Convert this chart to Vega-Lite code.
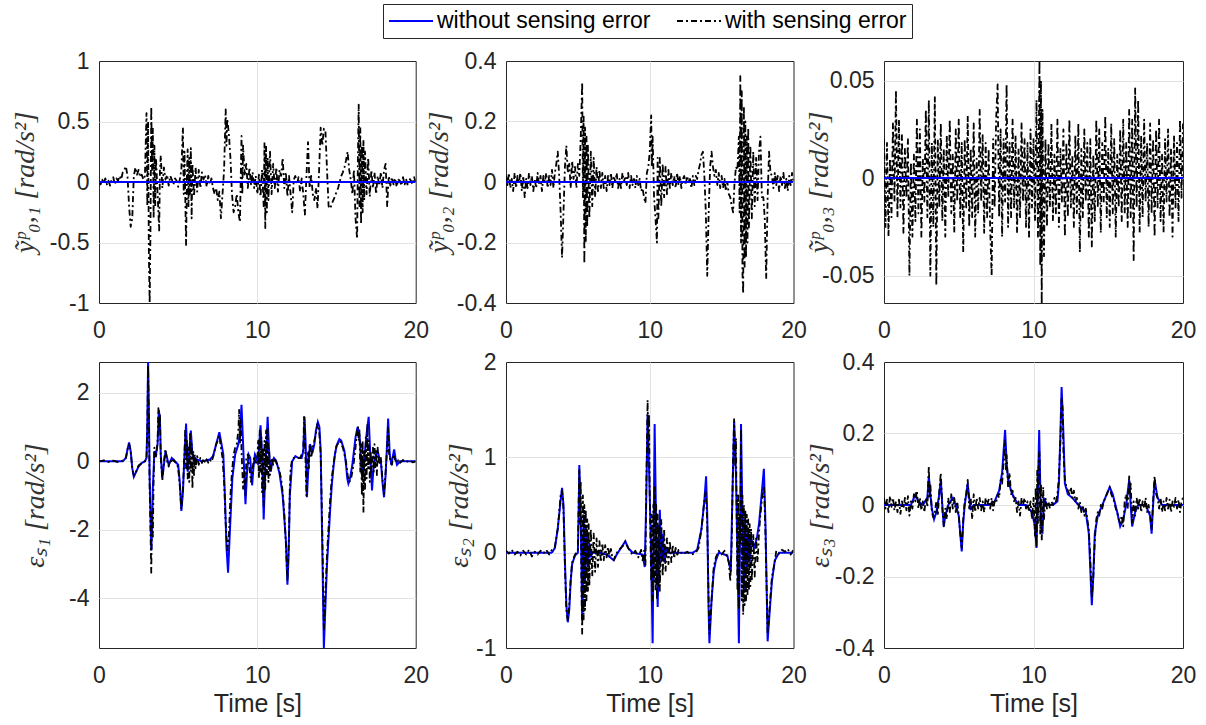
{
"$schema":"https://vega.github.io/schema/vega-lite/v6.json",
"padding":{"left":10,"top":3,"right":10,"bottom":5},
"bounds":"flush",
"columns":3,
"spacing":{"row":59,"column":90},
"datasets":{
"z":[{"t":0,"y":0},{"t":20,"y":0}],
"k1":[{"t":0,"y":0.01},{"t":0.1,"y":-0.02},{"t":0.2,"y":0.02},{"t":0.3,"y":-0.01},{"t":0.4,"y":0.03},{"t":0.5,"y":-0.02},{"t":0.6,"y":0.01},{"t":0.7,"y":-0.03},{"t":0.8,"y":0.02},{"t":0.9,"y":0.04},{"t":1,"y":-0.02},{"t":1.1,"y":0.03},{"t":1.2,"y":0.01},{"t":1.3,"y":0.05},{"t":1.4,"y":0.02},{"t":1.5,"y":0.08},{"t":1.6,"y":0.1},{"t":1.7,"y":0.13},{"t":1.8,"y":0.05},{"t":1.9,"y":-0.2},{"t":2,"y":-0.37},{"t":2.1,"y":-0.3},{"t":2.2,"y":0.05},{"t":2.3,"y":0.12},{"t":2.4,"y":0.06},{"t":2.5,"y":0.1},{"t":2.6,"y":0.04},{"t":2.7,"y":0.06},{"t":2.8,"y":0.02},{"t":2.9,"y":0.05},{"t":3,"y":0.57},{"t":3.05,"y":-0.2},{"t":3.1,"y":0.5},{"t":3.15,"y":-0.6},{"t":3.2,"y":-1},{"t":3.25,"y":-0.4},{"t":3.3,"y":0.62},{"t":3.35,"y":0.1},{"t":3.4,"y":0.45},{"t":3.45,"y":-0.3},{"t":3.5,"y":0.3},{"t":3.55,"y":-0.2},{"t":3.6,"y":0.2},{"t":3.7,"y":-0.1},{"t":3.8,"y":-0.4},{"t":3.85,"y":0.1},{"t":3.9,"y":0.22},{"t":4,"y":-0.05},{"t":4.1,"y":0.12},{"t":4.2,"y":0.02},{"t":4.3,"y":0.06},{"t":4.4,"y":-0.03},{"t":4.5,"y":0.05},{"t":4.6,"y":0.02},{"t":4.7,"y":-0.02},{"t":4.8,"y":0.03},{"t":4.9,"y":0.01},{"t":5,"y":-0.04},{"t":5.1,"y":0.02},{"t":5.2,"y":0.1},{"t":5.3,"y":0.45},{"t":5.35,"y":-0.1},{"t":5.4,"y":0.25},{"t":5.5,"y":-0.52},{"t":5.55,"y":0.05},{"t":5.6,"y":0.27},{"t":5.65,"y":-0.2},{"t":5.7,"y":0.2},{"t":5.75,"y":-0.1},{"t":5.8,"y":0.28},{"t":5.85,"y":-0.3},{"t":5.9,"y":0.15},{"t":6,"y":-0.12},{"t":6.1,"y":0.12},{"t":6.2,"y":-0.08},{"t":6.3,"y":0.1},{"t":6.4,"y":-0.05},{"t":6.5,"y":0.08},{"t":6.6,"y":0.02},{"t":6.7,"y":0.06},{"t":6.8,"y":-0.04},{"t":6.9,"y":0.05},{"t":7,"y":-0.02},{"t":7.1,"y":0.03},{"t":7.2,"y":-0.05},{"t":7.3,"y":-0.1},{"t":7.4,"y":-0.05},{"t":7.5,"y":-0.15},{"t":7.6,"y":-0.08},{"t":7.7,"y":-0.3},{"t":7.8,"y":-0.1},{"t":7.9,"y":0.1},{"t":8,"y":0.6},{"t":8.05,"y":0.3},{"t":8.1,"y":0.52},{"t":8.2,"y":0.4},{"t":8.3,"y":0.2},{"t":8.4,"y":-0.1},{"t":8.5,"y":-0.25},{"t":8.6,"y":-0.2},{"t":8.7,"y":-0.1},{"t":8.8,"y":-0.25},{"t":8.9,"y":-0.33},{"t":9,"y":0.38},{"t":9.05,"y":-0.1},{"t":9.1,"y":0.3},{"t":9.2,"y":0.05},{"t":9.3,"y":0.15},{"t":9.4,"y":-0.05},{"t":9.5,"y":0.12},{"t":9.6,"y":-0.02},{"t":9.7,"y":0.08},{"t":9.8,"y":-0.05},{"t":9.9,"y":0.05},{"t":10,"y":-0.1},{"t":10.1,"y":0.06},{"t":10.2,"y":-0.12},{"t":10.3,"y":0.1},{"t":10.4,"y":-0.2},{"t":10.45,"y":0.33},{"t":10.5,"y":-0.38},{"t":10.55,"y":0.3},{"t":10.6,"y":-0.25},{"t":10.65,"y":0.2},{"t":10.7,"y":-0.15},{"t":10.8,"y":0.25},{"t":10.9,"y":-0.1},{"t":11,"y":0.15},{"t":11.1,"y":-0.05},{"t":11.2,"y":0.12},{"t":11.3,"y":-0.08},{"t":11.4,"y":0.1},{"t":11.5,"y":0.05},{"t":11.6,"y":0.2},{"t":11.7,"y":-0.05},{"t":11.8,"y":0.08},{"t":11.9,"y":-0.12},{"t":12,"y":0.05},{"t":12.1,"y":-0.1},{"t":12.2,"y":-0.25},{"t":12.3,"y":0.02},{"t":12.4,"y":0.05},{"t":12.5,"y":-0.02},{"t":12.6,"y":0.04},{"t":12.7,"y":-0.08},{"t":12.8,"y":0.03},{"t":12.9,"y":-0.1},{"t":13,"y":-0.27},{"t":13.1,"y":0.05},{"t":13.2,"y":0.33},{"t":13.3,"y":-0.05},{"t":13.4,"y":0.05},{"t":13.5,"y":-0.1},{"t":13.6,"y":-0.15},{"t":13.7,"y":-0.05},{"t":13.8,"y":-0.22},{"t":13.9,"y":0.1},{"t":14,"y":0.45},{"t":14.1,"y":0.3},{"t":14.2,"y":0.44},{"t":14.3,"y":0.42},{"t":14.4,"y":0.1},{"t":14.5,"y":-0.2},{"t":14.6,"y":-0.22},{"t":14.7,"y":-0.18},{"t":14.8,"y":-0.15},{"t":14.9,"y":-0.12},{"t":15,"y":-0.08},{"t":15.1,"y":-0.05},{"t":15.2,"y":0},{"t":15.3,"y":0.05},{"t":15.4,"y":0.08},{"t":15.5,"y":0.12},{"t":15.6,"y":0.18},{"t":15.7,"y":0.25},{"t":15.8,"y":0.1},{"t":15.9,"y":0.02},{"t":16,"y":-0.1},{"t":16.1,"y":0.1},{"t":16.2,"y":-0.3},{"t":16.3,"y":-0.47},{"t":16.35,"y":0.2},{"t":16.4,"y":0.64},{"t":16.45,"y":-0.2},{"t":16.5,"y":0.45},{"t":16.55,"y":-0.35},{"t":16.6,"y":0.3},{"t":16.65,"y":-0.25},{"t":16.7,"y":0.35},{"t":16.75,"y":-0.15},{"t":16.8,"y":0.25},{"t":16.9,"y":-0.1},{"t":17,"y":0.2},{"t":17.1,"y":-0.12},{"t":17.2,"y":0.1},{"t":17.3,"y":-0.05},{"t":17.4,"y":0.08},{"t":17.5,"y":-0.1},{"t":17.6,"y":0.05},{"t":17.7,"y":-0.03},{"t":17.8,"y":0.08},{"t":17.9,"y":-0.05},{"t":18,"y":0.1},{"t":18.1,"y":0.15},{"t":18.2,"y":-0.2},{"t":18.3,"y":0.05},{"t":18.4,"y":-0.03},{"t":18.5,"y":0.04},{"t":18.6,"y":-0.02},{"t":18.7,"y":0.03},{"t":18.8,"y":-0.04},{"t":18.9,"y":0.02},{"t":19,"y":0.01},{"t":19.1,"y":-0.03},{"t":19.2,"y":0.04},{"t":19.3,"y":-0.02},{"t":19.4,"y":0.02},{"t":19.5,"y":-0.03},{"t":19.6,"y":0.03},{"t":19.7,"y":0.01},{"t":19.8,"y":-0.02},{"t":19.9,"y":0.04},{"t":20,"y":0}],
"k2":[{"t":0,"y":0.02},{"t":0.1,"y":-0.01},{"t":0.2,"y":0.03},{"t":0.3,"y":-0.02},{"t":0.4,"y":0.01},{"t":0.5,"y":-0.03},{"t":0.6,"y":0.03},{"t":0.7,"y":-0.02},{"t":0.8,"y":0.02},{"t":0.9,"y":0},{"t":1,"y":0.03},{"t":1.1,"y":-0.03},{"t":1.2,"y":0.02},{"t":1.3,"y":-0.05},{"t":1.4,"y":0.01},{"t":1.5,"y":-0.02},{"t":1.6,"y":0.03},{"t":1.7,"y":-0.01},{"t":1.8,"y":0.02},{"t":1.9,"y":-0.03},{"t":2,"y":0.01},{"t":2.1,"y":-0.02},{"t":2.2,"y":0.03},{"t":2.3,"y":-0.01},{"t":2.4,"y":0.02},{"t":2.5,"y":-0.03},{"t":2.6,"y":0.02},{"t":2.7,"y":0},{"t":2.8,"y":0.03},{"t":2.9,"y":-0.02},{"t":3,"y":0.02},{"t":3.1,"y":-0.01},{"t":3.2,"y":0.04},{"t":3.3,"y":-0.02},{"t":3.4,"y":0.03},{"t":3.5,"y":0.06},{"t":3.6,"y":0.1},{"t":3.7,"y":0.02},{"t":3.8,"y":-0.1},{"t":3.9,"y":-0.25},{"t":4,"y":-0.1},{"t":4.1,"y":0.05},{"t":4.2,"y":0.12},{"t":4.3,"y":0.03},{"t":4.4,"y":0.06},{"t":4.5,"y":-0.02},{"t":4.6,"y":0.07},{"t":4.7,"y":0.01},{"t":4.8,"y":0.05},{"t":4.9,"y":-0.02},{"t":5,"y":0.06},{"t":5.1,"y":0.02},{"t":5.2,"y":0.15},{"t":5.3,"y":0.33},{"t":5.35,"y":-0.05},{"t":5.4,"y":0.22},{"t":5.45,"y":-0.27},{"t":5.5,"y":0.18},{"t":5.55,"y":-0.2},{"t":5.6,"y":0.15},{"t":5.65,"y":-0.15},{"t":5.7,"y":0.12},{"t":5.8,"y":-0.12},{"t":5.9,"y":0.1},{"t":6,"y":-0.08},{"t":6.1,"y":0.08},{"t":6.2,"y":-0.05},{"t":6.3,"y":0.05},{"t":6.4,"y":-0.03},{"t":6.5,"y":0.04},{"t":6.6,"y":-0.02},{"t":6.7,"y":0.03},{"t":6.8,"y":-0.02},{"t":6.9,"y":0.02},{"t":7,"y":-0.03},{"t":7.1,"y":0.02},{"t":7.2,"y":-0.01},{"t":7.3,"y":0.03},{"t":7.4,"y":-0.02},{"t":7.5,"y":0.02},{"t":7.6,"y":0},{"t":7.7,"y":0.03},{"t":7.8,"y":-0.02},{"t":7.9,"y":0.01},{"t":8,"y":-0.02},{"t":8.1,"y":0.03},{"t":8.2,"y":0},{"t":8.3,"y":0.02},{"t":8.4,"y":-0.01},{"t":8.5,"y":0.03},{"t":8.6,"y":-0.02},{"t":8.7,"y":0.02},{"t":8.8,"y":-0.01},{"t":8.9,"y":0.01},{"t":9,"y":-0.02},{"t":9.1,"y":0.02},{"t":9.2,"y":-0.01},{"t":9.3,"y":0.01},{"t":9.4,"y":-0.03},{"t":9.5,"y":-0.02},{"t":9.6,"y":-0.05},{"t":9.7,"y":-0.07},{"t":9.8,"y":0.03},{"t":9.9,"y":0.05},{"t":10,"y":0.1},{"t":10.1,"y":0.22},{"t":10.15,"y":0.05},{"t":10.2,"y":0.15},{"t":10.3,"y":-0.05},{"t":10.4,"y":-0.12},{"t":10.5,"y":-0.2},{"t":10.55,"y":0.08},{"t":10.6,"y":-0.12},{"t":10.7,"y":0.08},{"t":10.8,"y":-0.08},{"t":10.9,"y":0.06},{"t":11,"y":-0.05},{"t":11.1,"y":0.05},{"t":11.2,"y":-0.04},{"t":11.3,"y":0.04},{"t":11.4,"y":-0.02},{"t":11.5,"y":0.03},{"t":11.6,"y":-0.01},{"t":11.7,"y":0.02},{"t":11.8,"y":-0.02},{"t":11.9,"y":0.03},{"t":12,"y":-0.01},{"t":12.1,"y":0.02},{"t":12.2,"y":-0.02},{"t":12.3,"y":0.01},{"t":12.4,"y":0.02},{"t":12.5,"y":-0.01},{"t":12.6,"y":0.02},{"t":12.7,"y":0},{"t":12.8,"y":0.01},{"t":12.9,"y":-0.02},{"t":13,"y":0.02},{"t":13.1,"y":-0.01},{"t":13.2,"y":0.02},{"t":13.3,"y":0.01},{"t":13.4,"y":0.04},{"t":13.5,"y":0.06},{"t":13.6,"y":0.09},{"t":13.7,"y":0.1},{"t":13.8,"y":0.02},{"t":13.9,"y":-0.1},{"t":14,"y":-0.31},{"t":14.1,"y":-0.1},{"t":14.2,"y":0.05},{"t":14.3,"y":0.1},{"t":14.4,"y":0.05},{"t":14.5,"y":0.02},{"t":14.6,"y":0.04},{"t":14.7,"y":-0.01},{"t":14.8,"y":0.03},{"t":14.9,"y":-0.02},{"t":15,"y":0.02},{"t":15.1,"y":-0.02},{"t":15.2,"y":0.01},{"t":15.3,"y":-0.03},{"t":15.4,"y":0},{"t":15.5,"y":-0.04},{"t":15.6,"y":-0.05},{"t":15.7,"y":-0.08},{"t":15.8,"y":-0.1},{"t":15.9,"y":0},{"t":16,"y":0.05},{"t":16.1,"y":0.04},{"t":16.2,"y":0.15},{"t":16.25,"y":-0.1},{"t":16.3,"y":0.35},{"t":16.35,"y":-0.2},{"t":16.4,"y":0.3},{"t":16.45,"y":-0.3},{"t":16.5,"y":-0.37},{"t":16.55,"y":0.25},{"t":16.6,"y":-0.28},{"t":16.65,"y":0.2},{"t":16.7,"y":-0.25},{"t":16.75,"y":0.15},{"t":16.8,"y":-0.2},{"t":16.85,"y":0.18},{"t":16.9,"y":-0.15},{"t":17,"y":0.12},{"t":17.1,"y":-0.12},{"t":17.2,"y":0.1},{"t":17.3,"y":-0.08},{"t":17.4,"y":0.08},{"t":17.5,"y":-0.06},{"t":17.6,"y":0.1},{"t":17.7,"y":0.15},{"t":17.8,"y":-0.05},{"t":17.9,"y":-0.05},{"t":18,"y":-0.12},{"t":18.1,"y":-0.32},{"t":18.2,"y":-0.05},{"t":18.3,"y":0.1},{"t":18.4,"y":0.03},{"t":18.5,"y":0.02},{"t":18.6,"y":-0.02},{"t":18.7,"y":0.03},{"t":18.8,"y":-0.01},{"t":18.9,"y":0.02},{"t":19,"y":-0.03},{"t":19.1,"y":0.02},{"t":19.2,"y":-0.01},{"t":19.3,"y":0.03},{"t":19.4,"y":-0.02},{"t":19.5,"y":0.01},{"t":19.6,"y":-0.03},{"t":19.7,"y":0.02},{"t":19.8,"y":-0.01},{"t":19.9,"y":0.03},{"t":20,"y":0}],
"k3":[{"t":0,"y":0.02},{"t":0.1,"y":-0.025},{"t":0.2,"y":0.018},{"t":0.3,"y":-0.03},{"t":0.4,"y":0.01},{"t":0.5,"y":-0.02},{"t":0.6,"y":0.028},{"t":0.7,"y":-0.012},{"t":0.8,"y":0.045},{"t":0.9,"y":-0.02},{"t":1,"y":0.03},{"t":1.1,"y":-0.015},{"t":1.2,"y":0.022},{"t":1.3,"y":-0.028},{"t":1.4,"y":0.015},{"t":1.5,"y":-0.01},{"t":1.6,"y":0.02},{"t":1.7,"y":-0.05},{"t":1.8,"y":0.008},{"t":1.9,"y":-0.03},{"t":2,"y":0.012},{"t":2.1,"y":-0.022},{"t":2.2,"y":0.03},{"t":2.3,"y":-0.018},{"t":2.4,"y":0.025},{"t":2.5,"y":-0.03},{"t":2.6,"y":0.01},{"t":2.7,"y":-0.012},{"t":2.8,"y":0.035},{"t":2.9,"y":-0.02},{"t":3,"y":0.04},{"t":3.1,"y":-0.05},{"t":3.2,"y":0.018},{"t":3.3,"y":-0.025},{"t":3.4,"y":0.042},{"t":3.5,"y":-0.055},{"t":3.6,"y":0.02},{"t":3.7,"y":-0.015},{"t":3.8,"y":0.028},{"t":3.9,"y":-0.022},{"t":4,"y":0.015},{"t":4.1,"y":-0.03},{"t":4.2,"y":0.022},{"t":4.3,"y":-0.01},{"t":4.4,"y":0.03},{"t":4.5,"y":-0.018},{"t":4.6,"y":0.012},{"t":4.7,"y":-0.028},{"t":4.8,"y":0.025},{"t":4.9,"y":-0.012},{"t":5,"y":0.03},{"t":5.1,"y":-0.02},{"t":5.2,"y":0.018},{"t":5.3,"y":-0.038},{"t":5.4,"y":0.02},{"t":5.5,"y":-0.015},{"t":5.6,"y":0.032},{"t":5.7,"y":-0.025},{"t":5.8,"y":0.015},{"t":5.9,"y":-0.02},{"t":6,"y":0.028},{"t":6.1,"y":-0.03},{"t":6.2,"y":0.01},{"t":6.3,"y":-0.018},{"t":6.4,"y":0.035},{"t":6.5,"y":-0.012},{"t":6.6,"y":0.022},{"t":6.7,"y":-0.028},{"t":6.8,"y":0.018},{"t":6.9,"y":-0.02},{"t":7,"y":0.015},{"t":7.1,"y":-0.025},{"t":7.2,"y":-0.05},{"t":7.3,"y":0.02},{"t":7.4,"y":-0.015},{"t":7.5,"y":0.03},{"t":7.6,"y":0.048},{"t":7.7,"y":-0.02},{"t":7.8,"y":0.025},{"t":7.9,"y":-0.03},{"t":8,"y":0.02},{"t":8.1,"y":-0.012},{"t":8.2,"y":0.048},{"t":8.3,"y":-0.025},{"t":8.4,"y":0.018},{"t":8.5,"y":-0.02},{"t":8.6,"y":0.03},{"t":8.7,"y":-0.015},{"t":8.8,"y":0.022},{"t":8.9,"y":-0.028},{"t":9,"y":0.015},{"t":9.1,"y":-0.02},{"t":9.2,"y":0.028},{"t":9.3,"y":-0.012},{"t":9.4,"y":0.02},{"t":9.5,"y":-0.025},{"t":9.6,"y":0.018},{"t":9.7,"y":-0.03},{"t":9.8,"y":0.025},{"t":9.9,"y":-0.015},{"t":10,"y":0.02},{"t":10.1,"y":-0.022},{"t":10.2,"y":0.04},{"t":10.3,"y":-0.03},{"t":10.4,"y":0.06},{"t":10.45,"y":-0.045},{"t":10.5,"y":0.05},{"t":10.55,"y":-0.065},{"t":10.6,"y":0.035},{"t":10.7,"y":-0.04},{"t":10.8,"y":0.02},{"t":10.9,"y":-0.025},{"t":11,"y":0.018},{"t":11.1,"y":-0.015},{"t":11.2,"y":0.028},{"t":11.3,"y":-0.022},{"t":11.4,"y":0.012},{"t":11.5,"y":-0.018},{"t":11.6,"y":0.03},{"t":11.7,"y":-0.025},{"t":11.8,"y":0.015},{"t":11.9,"y":-0.012},{"t":12,"y":0.025},{"t":12.1,"y":-0.03},{"t":12.2,"y":0.018},{"t":12.3,"y":-0.02},{"t":12.4,"y":0.03},{"t":12.5,"y":-0.015},{"t":12.6,"y":0.012},{"t":12.7,"y":-0.025},{"t":12.8,"y":0.022},{"t":12.9,"y":-0.018},{"t":13,"y":0.028},{"t":13.1,"y":-0.038},{"t":13.2,"y":0.015},{"t":13.3,"y":-0.02},{"t":13.4,"y":0.025},{"t":13.5,"y":-0.012},{"t":13.6,"y":0.018},{"t":13.7,"y":-0.03},{"t":13.8,"y":0.02},{"t":13.9,"y":-0.035},{"t":14,"y":0.012},{"t":14.1,"y":-0.022},{"t":14.2,"y":0.03},{"t":14.3,"y":-0.015},{"t":14.4,"y":0.025},{"t":14.5,"y":-0.028},{"t":14.6,"y":0.018},{"t":14.7,"y":-0.012},{"t":14.8,"y":0.032},{"t":14.9,"y":-0.02},{"t":15,"y":0.015},{"t":15.1,"y":-0.025},{"t":15.2,"y":0.028},{"t":15.3,"y":-0.018},{"t":15.4,"y":0.02},{"t":15.5,"y":-0.03},{"t":15.6,"y":0.012},{"t":15.7,"y":-0.015},{"t":15.8,"y":0.025},{"t":15.9,"y":-0.022},{"t":16,"y":0.03},{"t":16.1,"y":-0.018},{"t":16.2,"y":0.018},{"t":16.3,"y":-0.025},{"t":16.4,"y":0.035},{"t":16.5,"y":-0.02},{"t":16.6,"y":0.03},{"t":16.7,"y":-0.042},{"t":16.8,"y":0.046},{"t":16.9,"y":-0.015},{"t":17,"y":0.04},{"t":17.1,"y":-0.028},{"t":17.2,"y":0.022},{"t":17.3,"y":-0.02},{"t":17.4,"y":0.03},{"t":17.5,"y":-0.012},{"t":17.6,"y":0.018},{"t":17.7,"y":-0.025},{"t":17.8,"y":0.028},{"t":17.9,"y":-0.018},{"t":18,"y":0.02},{"t":18.1,"y":-0.03},{"t":18.2,"y":0.025},{"t":18.3,"y":-0.015},{"t":18.4,"y":0.03},{"t":18.5,"y":-0.022},{"t":18.6,"y":0.012},{"t":18.7,"y":-0.028},{"t":18.8,"y":0.02},{"t":18.9,"y":-0.012},{"t":19,"y":0.025},{"t":19.1,"y":-0.02},{"t":19.2,"y":0.015},{"t":19.3,"y":-0.03},{"t":19.4,"y":0.022},{"t":19.5,"y":-0.015},{"t":19.6,"y":0.018},{"t":19.7,"y":-0.022},{"t":19.8,"y":0.03},{"t":19.9,"y":-0.01},{"t":20,"y":0.028}],
"c1":[{"t":0,"y":0},{"t":1.5,"y":0},{"t":1.7,"y":0.1},{"t":1.8,"y":0.35},{"t":1.9,"y":0.55},{"t":2,"y":0.3},{"t":2.1,"y":-0.2},{"t":2.2,"y":-0.45},{"t":2.3,"y":-0.35},{"t":2.5,"y":-0.15},{"t":2.7,"y":-0.05},{"t":2.9,"y":0},{"t":3,"y":0.1},{"t":3.05,"y":1},{"t":3.1,"y":2.9},{"t":3.15,"y":1.5},{"t":3.2,"y":-0.5},{"t":3.3,"y":-2.6},{"t":3.35,"y":-2},{"t":3.4,"y":-0.8},{"t":3.5,"y":0.3},{"t":3.6,"y":0.2},{"t":3.7,"y":0.5},{"t":3.78,"y":1.5},{"t":3.85,"y":1.2},{"t":3.9,"y":0.2},{"t":4,"y":-0.5},{"t":4.1,"y":-0.1},{"t":4.2,"y":0.3},{"t":4.3,"y":0.1},{"t":4.4,"y":-0.1},{"t":4.5,"y":0},{"t":4.6,"y":0.1},{"t":4.8,"y":0},{"t":5,"y":-0.1},{"t":5.1,"y":-0.6},{"t":5.2,"y":-1.45},{"t":5.3,"y":-0.9},{"t":5.4,"y":0.2},{"t":5.5,"y":1.1},{"t":5.6,"y":-0.3},{"t":5.7,"y":0.3},{"t":5.8,"y":0.9},{"t":5.9,"y":0.2},{"t":6,"y":0.1},{"t":6.2,"y":0.05},{"t":6.5,"y":0},{"t":7,"y":0.05},{"t":7.2,"y":0.15},{"t":7.4,"y":0.5},{"t":7.6,"y":0.85},{"t":7.7,"y":0.6},{"t":7.85,"y":0.2},{"t":7.95,"y":-1},{"t":8.05,"y":-2.5},{"t":8.15,"y":-3.25},{"t":8.27,"y":-2},{"t":8.42,"y":-0.5},{"t":8.6,"y":0.2},{"t":8.8,"y":0.5},{"t":8.9,"y":0.8},{"t":9,"y":1.65},{"t":9.1,"y":0.5},{"t":9.25,"y":-1.25},{"t":9.35,"y":-0.3},{"t":9.45,"y":0.2},{"t":9.55,"y":0.1},{"t":9.67,"y":-0.7},{"t":9.75,"y":-0.2},{"t":9.85,"y":0.2},{"t":9.95,"y":0.1},{"t":10.05,"y":-0.1},{"t":10.12,"y":0.5},{"t":10.2,"y":1.05},{"t":10.3,"y":0.2},{"t":10.4,"y":-1.7},{"t":10.5,"y":-0.3},{"t":10.65,"y":1.3},{"t":10.75,"y":0.2},{"t":10.85,"y":-0.3},{"t":10.95,"y":0},{"t":11.05,"y":0.1},{"t":11.2,"y":0},{"t":11.4,"y":-0.35},{"t":11.6,"y":-1},{"t":11.8,"y":-2.3},{"t":11.9,"y":-3.6},{"t":11.97,"y":-2.8},{"t":12.05,"y":-1},{"t":12.2,"y":0},{"t":12.4,"y":0.15},{"t":12.6,"y":0.1},{"t":12.8,"y":0.1},{"t":12.9,"y":0.3},{"t":12.98,"y":1.3},{"t":13.05,"y":0.5},{"t":13.13,"y":-1.05},{"t":13.22,"y":-0.2},{"t":13.32,"y":0.5},{"t":13.5,"y":0.3},{"t":13.6,"y":0.5},{"t":13.7,"y":0.9},{"t":13.82,"y":1.15},{"t":13.92,"y":1},{"t":14,"y":0.3},{"t":14.1,"y":-2.5},{"t":14.2,"y":-5.45},{"t":14.3,"y":-4.2},{"t":14.4,"y":-3},{"t":14.5,"y":-2.2},{"t":14.6,"y":-1.4},{"t":14.7,"y":-0.7},{"t":14.8,"y":-0.2},{"t":14.9,"y":0.2},{"t":15,"y":0.45},{"t":15.18,"y":0.65},{"t":15.3,"y":0.6},{"t":15.5,"y":0.3},{"t":15.6,"y":-0.1},{"t":15.68,"y":-0.5},{"t":15.75,"y":-0.65},{"t":15.85,"y":-0.5},{"t":16,"y":-0.1},{"t":16.1,"y":0.3},{"t":16.2,"y":0.7},{"t":16.33,"y":1},{"t":16.45,"y":0.8},{"t":16.55,"y":0},{"t":16.65,"y":-0.5},{"t":16.78,"y":0.2},{"t":16.9,"y":0.8},{"t":17.03,"y":1.3},{"t":17.12,"y":0.3},{"t":17.24,"y":-0.85},{"t":17.33,"y":-0.2},{"t":17.42,"y":0.1},{"t":17.5,"y":0.2},{"t":17.6,"y":0.3},{"t":17.7,"y":0.1},{"t":17.8,"y":0},{"t":17.9,"y":-0.6},{"t":18,"y":-1.05},{"t":18.1,"y":-0.4},{"t":18.18,"y":0.4},{"t":18.26,"y":1.25},{"t":18.36,"y":0.2},{"t":18.46,"y":-0.1},{"t":18.64,"y":0.35},{"t":18.72,"y":0.1},{"t":18.82,"y":-0.1},{"t":19,"y":0},{"t":20,"y":0}],
"k4":[{"t":0,"y":0},{"t":0.3,"y":0.03},{"t":0.6,"y":-0.02},{"t":0.9,"y":0.02},{"t":1.2,"y":-0.02},{"t":1.5,"y":0.02},{"t":1.7,"y":0.1},{"t":1.8,"y":0.35},{"t":1.9,"y":0.5},{"t":2,"y":0.3},{"t":2.1,"y":-0.2},{"t":2.2,"y":-0.42},{"t":2.3,"y":-0.35},{"t":2.5,"y":-0.12},{"t":2.7,"y":-0.05},{"t":2.9,"y":0},{"t":3,"y":0.1},{"t":3.05,"y":1},{"t":3.1,"y":2.8},{"t":3.15,"y":1.2},{"t":3.2,"y":-0.8},{"t":3.25,"y":-2},{"t":3.3,"y":-3.25},{"t":3.35,"y":-1.5},{"t":3.4,"y":-2.2},{"t":3.45,"y":-0.5},{"t":3.5,"y":0.4},{"t":3.6,"y":0.1},{"t":3.7,"y":0.6},{"t":3.75,"y":1.55},{"t":3.8,"y":0.9},{"t":3.85,"y":1.4},{"t":3.9,"y":0.1},{"t":4,"y":-0.55},{"t":4.1,"y":0},{"t":4.2,"y":0.35},{"t":4.3,"y":0},{"t":4.4,"y":-0.15},{"t":4.5,"y":0.05},{"t":4.6,"y":-0.05},{"t":4.7,"y":0.05},{"t":4.8,"y":-0.02},{"t":4.9,"y":-0.05},{"t":5,"y":-0.2},{"t":5.1,"y":-0.7},{"t":5.2,"y":-1.4},{"t":5.3,"y":-0.8},{"t":5.4,"y":0.3},{"t":5.45,"y":0.95},{"t":5.5,"y":-0.2},{"t":5.55,"y":0.6},{"t":5.6,"y":-0.5},{"t":5.65,"y":0.4},{"t":5.7,"y":-0.6},{"t":5.75,"y":0.8},{"t":5.8,"y":-0.3},{"t":5.85,"y":0.5},{"t":5.9,"y":-0.8},{"t":5.95,"y":0.3},{"t":6,"y":-0.4},{"t":6.05,"y":0.2},{"t":6.1,"y":-0.2},{"t":6.2,"y":0.15},{"t":6.3,"y":-0.1},{"t":6.4,"y":0.1},{"t":6.5,"y":-0.05},{"t":6.6,"y":0.08},{"t":6.7,"y":-0.05},{"t":6.8,"y":0.06},{"t":6.9,"y":-0.04},{"t":7,"y":0.05},{"t":7.1,"y":-0.02},{"t":7.2,"y":0.12},{"t":7.3,"y":0.3},{"t":7.4,"y":0.5},{"t":7.5,"y":0.6},{"t":7.6,"y":0.75},{"t":7.7,"y":0.4},{"t":7.8,"y":0.1},{"t":7.9,"y":-0.6},{"t":8,"y":-1.8},{"t":8.1,"y":-2.6},{"t":8.2,"y":-2.2},{"t":8.3,"y":-1},{"t":8.4,"y":-0.3},{"t":8.5,"y":0.2},{"t":8.6,"y":0.4},{"t":8.7,"y":0.5},{"t":8.8,"y":0.9},{"t":8.85,"y":1.5},{"t":8.9,"y":0.5},{"t":8.95,"y":1.2},{"t":9,"y":0.3},{"t":9.1,"y":-0.8},{"t":9.2,"y":-0.3},{"t":9.25,"y":-1},{"t":9.3,"y":0.1},{"t":9.4,"y":0.2},{"t":9.5,"y":-0.2},{"t":9.6,"y":-0.6},{"t":9.7,"y":-0.2},{"t":9.8,"y":0.15},{"t":9.9,"y":-0.1},{"t":10,"y":0.1},{"t":10.05,"y":0.6},{"t":10.1,"y":-0.5},{"t":10.15,"y":0.9},{"t":10.2,"y":-0.3},{"t":10.25,"y":0.7},{"t":10.3,"y":-0.9},{"t":10.35,"y":0.4},{"t":10.4,"y":-1.3},{"t":10.45,"y":0.6},{"t":10.5,"y":-0.8},{"t":10.55,"y":0.9},{"t":10.6,"y":-0.4},{"t":10.65,"y":1},{"t":10.7,"y":-0.6},{"t":10.75,"y":0.3},{"t":10.8,"y":-0.4},{"t":10.9,"y":0.1},{"t":11,"y":-0.1},{"t":11.1,"y":0.1},{"t":11.2,"y":-0.05},{"t":11.3,"y":-0.1},{"t":11.4,"y":-0.3},{"t":11.5,"y":-0.5},{"t":11.6,"y":-0.9},{"t":11.7,"y":-1.5},{"t":11.8,"y":-2.4},{"t":11.9,"y":-3.5},{"t":12,"y":-2.2},{"t":12.05,"y":-0.8},{"t":12.1,"y":-0.2},{"t":12.2,"y":0.05},{"t":12.3,"y":0.1},{"t":12.5,"y":0.1},{"t":12.7,"y":0.1},{"t":12.9,"y":0.3},{"t":12.95,"y":1.3},{"t":13,"y":0.8},{"t":13.1,"y":-1},{"t":13.15,"y":-0.4},{"t":13.2,"y":0.3},{"t":13.25,"y":-0.2},{"t":13.3,"y":0.5},{"t":13.4,"y":0.1},{"t":13.5,"y":0.4},{"t":13.6,"y":0.6},{"t":13.7,"y":0.8},{"t":13.8,"y":1.1},{"t":13.9,"y":0.9},{"t":14,"y":0.2},{"t":14.1,"y":-2},{"t":14.2,"y":-4.9},{"t":14.3,"y":-3.8},{"t":14.4,"y":-2.7},{"t":14.5,"y":-1.9},{"t":14.6,"y":-1.1},{"t":14.7,"y":-0.5},{"t":14.8,"y":-0.1},{"t":14.9,"y":0.2},{"t":15,"y":0.45},{"t":15.2,"y":0.6},{"t":15.4,"y":0.4},{"t":15.6,"y":0},{"t":15.7,"y":-0.4},{"t":15.8,"y":-0.6},{"t":15.9,"y":-0.55},{"t":16,"y":-0.3},{"t":16.1,"y":0},{"t":16.2,"y":0.4},{"t":16.3,"y":0.9},{"t":16.35,"y":1},{"t":16.4,"y":0.6},{"t":16.45,"y":0.9},{"t":16.5,"y":-0.3},{"t":16.55,"y":0.5},{"t":16.6,"y":-1},{"t":16.65,"y":0.6},{"t":16.7,"y":-1.5},{"t":16.75,"y":0.3},{"t":16.8,"y":-0.8},{"t":16.85,"y":0.7},{"t":16.9,"y":-0.5},{"t":16.95,"y":1.1},{"t":17,"y":-0.2},{"t":17.05,"y":0.6},{"t":17.1,"y":-0.6},{"t":17.15,"y":0.3},{"t":17.2,"y":-0.3},{"t":17.3,"y":0.4},{"t":17.35,"y":-0.3},{"t":17.4,"y":0.5},{"t":17.45,"y":-0.2},{"t":17.5,"y":0.3},{"t":17.55,"y":-0.4},{"t":17.6,"y":0.4},{"t":17.7,"y":-0.1},{"t":17.8,"y":0.1},{"t":17.9,"y":-0.5},{"t":18,"y":-0.95},{"t":18.1,"y":-0.3},{"t":18.2,"y":0.4},{"t":18.25,"y":1},{"t":18.3,"y":0.3},{"t":18.4,"y":0},{"t":18.5,"y":-0.1},{"t":18.6,"y":0.2},{"t":18.7,"y":0.05},{"t":18.8,"y":-0.05},{"t":18.9,"y":0.03},{"t":19,"y":-0.05},{"t":19.2,"y":0.04},{"t":19.4,"y":-0.03},{"t":19.6,"y":0.04},{"t":19.8,"y":-0.03},{"t":20,"y":0}],
"c2":[{"t":0,"y":0},{"t":3.2,"y":0},{"t":3.4,"y":0.05},{"t":3.6,"y":0.25},{"t":3.8,"y":0.55},{"t":3.9,"y":0.68},{"t":4,"y":0.5},{"t":4.1,"y":-0.1},{"t":4.2,"y":-0.55},{"t":4.3,"y":-0.73},{"t":4.4,"y":-0.6},{"t":4.5,"y":-0.3},{"t":4.6,"y":-0.12},{"t":4.8,"y":-0.03},{"t":5,"y":0},{"t":5.05,"y":0.4},{"t":5.1,"y":0.92},{"t":5.2,"y":0.4},{"t":5.3,"y":-0.7},{"t":5.35,"y":-0.2},{"t":5.4,"y":0.4},{"t":5.5,"y":-0.3},{"t":5.6,"y":0.25},{"t":5.7,"y":-0.15},{"t":5.8,"y":0.1},{"t":5.9,"y":-0.05},{"t":6,"y":0},{"t":6.5,"y":0},{"t":7,"y":-0.02},{"t":7.5,"y":-0.08},{"t":7.7,"y":-0.02},{"t":8,"y":0.05},{"t":8.3,"y":0.12},{"t":8.5,"y":0.05},{"t":8.8,"y":0},{"t":9.5,"y":-0.02},{"t":9.65,"y":-0.15},{"t":9.75,"y":0.5},{"t":9.85,"y":1.45},{"t":9.95,"y":0.9},{"t":10.08,"y":0.1},{"t":10.2,"y":-0.95},{"t":10.27,"y":0.2},{"t":10.34,"y":1.35},{"t":10.45,"y":0.2},{"t":10.55,"y":-0.57},{"t":10.7,"y":0.45},{"t":10.8,"y":-0.1},{"t":10.9,"y":0.2},{"t":11,"y":-0.1},{"t":11.1,"y":0.05},{"t":11.3,"y":0},{"t":13,"y":0},{"t":13.3,"y":0.03},{"t":13.6,"y":0.25},{"t":13.8,"y":0.55},{"t":13.92,"y":0.8},{"t":14,"y":0.4},{"t":14.08,"y":-0.5},{"t":14.15,"y":-0.95},{"t":14.3,"y":-0.5},{"t":14.45,"y":-0.2},{"t":14.6,"y":-0.08},{"t":14.8,"y":0},{"t":15.4,"y":-0.03},{"t":15.64,"y":-0.2},{"t":15.75,"y":0.6},{"t":15.87,"y":1.38},{"t":16,"y":0.8},{"t":16.1,"y":0},{"t":16.2,"y":-0.95},{"t":16.28,"y":0.2},{"t":16.35,"y":1.35},{"t":16.45,"y":0.3},{"t":16.55,"y":-0.4},{"t":16.65,"y":0.35},{"t":16.75,"y":-0.2},{"t":16.85,"y":0.25},{"t":16.95,"y":-0.1},{"t":17.05,"y":0.15},{"t":17.25,"y":0.05},{"t":17.45,"y":0.15},{"t":17.6,"y":0.3},{"t":17.75,"y":0.55},{"t":17.94,"y":0.88},{"t":18.05,"y":0.3},{"t":18.2,"y":-0.93},{"t":18.35,"y":-0.6},{"t":18.5,"y":-0.3},{"t":18.7,"y":-0.08},{"t":19,"y":0},{"t":20,"y":0}],
"k5":[{"t":0,"y":0.02},{"t":0.2,"y":-0.01},{"t":0.4,"y":0.03},{"t":0.6,"y":-0.02},{"t":0.8,"y":0.01},{"t":1,"y":-0.03},{"t":1.2,"y":0.02},{"t":1.4,"y":-0.02},{"t":1.6,"y":0.03},{"t":1.8,"y":-0.04},{"t":2,"y":0.01},{"t":2.2,"y":-0.02},{"t":2.4,"y":0.02},{"t":2.6,"y":-0.01},{"t":2.8,"y":0.03},{"t":3,"y":-0.02},{"t":3.2,"y":0.03},{"t":3.4,"y":0.06},{"t":3.6,"y":0.25},{"t":3.8,"y":0.6},{"t":3.9,"y":0.65},{"t":4,"y":0.45},{"t":4.1,"y":-0.15},{"t":4.2,"y":-0.6},{"t":4.3,"y":-0.72},{"t":4.4,"y":-0.55},{"t":4.5,"y":-0.28},{"t":4.6,"y":-0.1},{"t":4.8,"y":-0.02},{"t":5,"y":0.02},{"t":5.05,"y":0.5},{"t":5.1,"y":0.88},{"t":5.15,"y":0.3},{"t":5.2,"y":0.75},{"t":5.25,"y":-0.4},{"t":5.3,"y":-0.85},{"t":5.35,"y":0.6},{"t":5.4,"y":-0.7},{"t":5.45,"y":0.5},{"t":5.5,"y":-0.6},{"t":5.55,"y":0.45},{"t":5.6,"y":-0.5},{"t":5.65,"y":0.35},{"t":5.7,"y":-0.4},{"t":5.75,"y":0.3},{"t":5.8,"y":-0.35},{"t":5.9,"y":0.25},{"t":6,"y":-0.25},{"t":6.1,"y":0.2},{"t":6.2,"y":-0.2},{"t":6.3,"y":0.15},{"t":6.4,"y":-0.15},{"t":6.5,"y":0.12},{"t":6.6,"y":-0.1},{"t":6.7,"y":0.1},{"t":6.8,"y":-0.08},{"t":6.9,"y":0.08},{"t":7,"y":-0.05},{"t":7.1,"y":0.06},{"t":7.2,"y":-0.05},{"t":7.3,"y":0.04},{"t":7.4,"y":-0.06},{"t":7.5,"y":-0.08},{"t":7.6,"y":-0.03},{"t":7.8,"y":0.02},{"t":8,"y":0.05},{"t":8.2,"y":0.08},{"t":8.3,"y":0.12},{"t":8.4,"y":0.08},{"t":8.6,"y":0.02},{"t":8.8,"y":-0.02},{"t":9,"y":0.02},{"t":9.2,"y":-0.05},{"t":9.4,"y":0.03},{"t":9.5,"y":-0.08},{"t":9.6,"y":0.02},{"t":9.7,"y":-0.15},{"t":9.75,"y":0.6},{"t":9.85,"y":1.6},{"t":9.9,"y":1.1},{"t":9.95,"y":1.45},{"t":10,"y":0.6},{"t":10.05,"y":0.1},{"t":10.1,"y":-0.3},{"t":10.15,"y":0.4},{"t":10.2,"y":-0.5},{"t":10.25,"y":0.5},{"t":10.3,"y":-0.3},{"t":10.35,"y":0.7},{"t":10.4,"y":-0.4},{"t":10.45,"y":0.5},{"t":10.5,"y":-0.5},{"t":10.55,"y":0.4},{"t":10.6,"y":-0.35},{"t":10.65,"y":0.3},{"t":10.7,"y":-0.4},{"t":10.8,"y":0.35},{"t":10.9,"y":-0.25},{"t":11,"y":0.25},{"t":11.1,"y":-0.2},{"t":11.2,"y":0.15},{"t":11.3,"y":-0.12},{"t":11.4,"y":0.12},{"t":11.5,"y":-0.1},{"t":11.6,"y":0.08},{"t":11.7,"y":-0.06},{"t":11.8,"y":0.05},{"t":11.9,"y":-0.04},{"t":12,"y":0.03},{"t":12.3,"y":-0.02},{"t":12.6,"y":0.01},{"t":12.9,"y":-0.02},{"t":13.2,"y":0},{"t":13.4,"y":0.05},{"t":13.6,"y":0.25},{"t":13.8,"y":0.55},{"t":13.9,"y":0.65},{"t":14,"y":0.3},{"t":14.1,"y":-0.5},{"t":14.15,"y":-0.85},{"t":14.3,"y":-0.5},{"t":14.45,"y":-0.15},{"t":14.6,"y":-0.05},{"t":14.8,"y":0.02},{"t":15,"y":-0.02},{"t":15.2,"y":0.02},{"t":15.4,"y":-0.05},{"t":15.5,"y":-0.1},{"t":15.6,"y":-0.3},{"t":15.7,"y":0.1},{"t":15.8,"y":1},{"t":15.87,"y":1.4},{"t":15.95,"y":0.9},{"t":16,"y":1.2},{"t":16.05,"y":0.3},{"t":16.1,"y":-0.4},{"t":16.15,"y":0.6},{"t":16.2,"y":-0.6},{"t":16.25,"y":0.4},{"t":16.3,"y":0.1},{"t":16.35,"y":1.3},{"t":16.4,"y":-0.5},{"t":16.45,"y":0.6},{"t":16.5,"y":-0.65},{"t":16.55,"y":0.5},{"t":16.6,"y":-0.55},{"t":16.65,"y":0.45},{"t":16.7,"y":-0.5},{"t":16.75,"y":0.4},{"t":16.8,"y":-0.45},{"t":16.85,"y":0.35},{"t":16.9,"y":-0.4},{"t":16.95,"y":0.3},{"t":17,"y":-0.35},{"t":17.05,"y":0.25},{"t":17.1,"y":-0.3},{"t":17.2,"y":0.2},{"t":17.3,"y":-0.25},{"t":17.4,"y":0.15},{"t":17.5,"y":-0.1},{"t":17.6,"y":0.2},{"t":17.7,"y":0.4},{"t":17.8,"y":0.55},{"t":17.9,"y":0.65},{"t":17.95,"y":0.7},{"t":18.05,"y":0.2},{"t":18.2,"y":-0.85},{"t":18.35,"y":-0.55},{"t":18.5,"y":-0.25},{"t":18.7,"y":-0.1},{"t":18.8,"y":0.02},{"t":19,"y":-0.01},{"t":19.2,"y":0.03},{"t":19.4,"y":0.01},{"t":19.6,"y":0.04},{"t":19.8,"y":-0.02},{"t":20,"y":0.03}],
"c3":[{"t":0,"y":0},{"t":1.8,"y":0},{"t":2,"y":0.02},{"t":2.1,"y":0.03},{"t":2.3,"y":0.01},{"t":2.6,"y":0},{"t":2.9,"y":0.02},{"t":3,"y":0.08},{"t":3.1,"y":0.03},{"t":3.2,"y":-0.01},{"t":3.35,"y":-0.04},{"t":3.5,"y":-0.02},{"t":3.7,"y":0.03},{"t":3.8,"y":0.07},{"t":3.9,"y":0},{"t":4,"y":-0.06},{"t":4.1,"y":-0.03},{"t":4.3,"y":0},{"t":4.6,"y":0.02},{"t":4.8,"y":0},{"t":5,"y":-0.03},{"t":5.1,"y":-0.08},{"t":5.2,"y":-0.13},{"t":5.3,"y":-0.05},{"t":5.4,"y":0},{"t":5.5,"y":0.03},{"t":5.6,"y":0.06},{"t":5.7,"y":0.02},{"t":5.8,"y":-0.01},{"t":6,"y":0},{"t":7,"y":0},{"t":7.4,"y":0.01},{"t":7.7,"y":0.04},{"t":7.9,"y":0.09},{"t":8,"y":0.15},{"t":8.1,"y":0.21},{"t":8.2,"y":0.12},{"t":8.3,"y":0.07},{"t":8.5,"y":0.04},{"t":8.7,"y":0.02},{"t":9,"y":0},{"t":9.5,"y":0},{"t":9.9,"y":-0.02},{"t":10.1,"y":-0.06},{"t":10.2,"y":-0.12},{"t":10.3,"y":0.05},{"t":10.38,"y":0.21},{"t":10.5,"y":-0.05},{"t":10.6,"y":-0.08},{"t":10.7,"y":0.02},{"t":10.9,"y":0},{"t":11.3,"y":0},{"t":11.6,"y":0.01},{"t":11.7,"y":0.06},{"t":11.8,"y":0.2},{"t":11.88,"y":0.33},{"t":12,"y":0.2},{"t":12.1,"y":0.06},{"t":12.3,"y":0.03},{"t":12.6,"y":0.02},{"t":13,"y":0},{"t":13.5,"y":-0.02},{"t":13.7,"y":-0.08},{"t":13.8,"y":-0.18},{"t":13.9,"y":-0.28},{"t":14,"y":-0.2},{"t":14.1,"y":-0.08},{"t":14.3,"y":-0.03},{"t":14.6,"y":0},{"t":14.9,"y":0.03},{"t":15.1,"y":0.05},{"t":15.3,"y":0.03},{"t":15.6,"y":-0.02},{"t":15.8,"y":-0.06},{"t":16,"y":-0.04},{"t":16.2,"y":0},{"t":16.4,"y":0.07},{"t":16.5,"y":0},{"t":16.6,"y":-0.06},{"t":16.8,"y":-0.02},{"t":17,"y":0},{"t":17.5,"y":0},{"t":17.8,"y":-0.03},{"t":17.9,"y":-0.08},{"t":18,"y":0},{"t":18.1,"y":0.07},{"t":18.3,"y":0.02},{"t":18.6,"y":0},{"t":20,"y":0}],
"k6":[{"t":0,"y":0.02},{"t":0.1,"y":-0.01},{"t":0.2,"y":0.015},{"t":0.3,"y":-0.02},{"t":0.4,"y":0.025},{"t":0.5,"y":-0.005},{"t":0.6,"y":0.02},{"t":0.7,"y":-0.015},{"t":0.8,"y":0.01},{"t":0.9,"y":-0.02},{"t":1,"y":0.015},{"t":1.1,"y":-0.025},{"t":1.2,"y":0.01},{"t":1.3,"y":-0.01},{"t":1.4,"y":0.02},{"t":1.5,"y":-0.015},{"t":1.6,"y":0.025},{"t":1.7,"y":-0.03},{"t":1.8,"y":0.01},{"t":1.9,"y":-0.01},{"t":2,"y":0.03},{"t":2.1,"y":0.01},{"t":2.2,"y":0.04},{"t":2.3,"y":-0.01},{"t":2.4,"y":0.02},{"t":2.5,"y":-0.015},{"t":2.6,"y":0.01},{"t":2.7,"y":-0.02},{"t":2.8,"y":0.02},{"t":2.9,"y":-0.005},{"t":3,"y":0.11},{"t":3.05,"y":0.02},{"t":3.1,"y":0.06},{"t":3.2,"y":-0.02},{"t":3.3,"y":-0.035},{"t":3.4,"y":-0.02},{"t":3.5,"y":0.01},{"t":3.6,"y":-0.03},{"t":3.7,"y":0.04},{"t":3.8,"y":0.09},{"t":3.9,"y":-0.01},{"t":4,"y":-0.06},{"t":4.1,"y":-0.01},{"t":4.2,"y":-0.04},{"t":4.3,"y":0.02},{"t":4.4,"y":-0.02},{"t":4.5,"y":0.03},{"t":4.6,"y":-0.01},{"t":4.7,"y":0.02},{"t":4.8,"y":-0.02},{"t":4.9,"y":0.01},{"t":5,"y":-0.03},{"t":5.1,"y":-0.08},{"t":5.2,"y":-0.12},{"t":5.3,"y":-0.04},{"t":5.4,"y":0.01},{"t":5.5,"y":0.03},{"t":5.6,"y":0.07},{"t":5.7,"y":-0.01},{"t":5.8,"y":0.02},{"t":5.9,"y":-0.04},{"t":6,"y":0.03},{"t":6.1,"y":-0.02},{"t":6.2,"y":0.02},{"t":6.3,"y":-0.01},{"t":6.4,"y":0.02},{"t":6.5,"y":-0.015},{"t":6.6,"y":0.01},{"t":6.7,"y":-0.02},{"t":6.8,"y":0.02},{"t":6.9,"y":0},{"t":7,"y":0.015},{"t":7.1,"y":-0.01},{"t":7.2,"y":0.02},{"t":7.3,"y":-0.015},{"t":7.4,"y":0.01},{"t":7.5,"y":0.005},{"t":7.6,"y":0.03},{"t":7.7,"y":0.02},{"t":7.8,"y":0.07},{"t":7.9,"y":0.06},{"t":8,"y":0.12},{"t":8.1,"y":0.18},{"t":8.15,"y":0.1},{"t":8.2,"y":0.14},{"t":8.3,"y":0.05},{"t":8.4,"y":0.09},{"t":8.5,"y":0.03},{"t":8.6,"y":0.04},{"t":8.7,"y":0.01},{"t":8.8,"y":0.02},{"t":8.9,"y":-0.02},{"t":9,"y":0.01},{"t":9.1,"y":-0.03},{"t":9.2,"y":0.02},{"t":9.3,"y":0},{"t":9.4,"y":0.02},{"t":9.5,"y":-0.01},{"t":9.6,"y":0.01},{"t":9.7,"y":-0.02},{"t":9.8,"y":0.01},{"t":9.9,"y":-0.04},{"t":10,"y":0.02},{"t":10.1,"y":-0.09},{"t":10.15,"y":0.05},{"t":10.2,"y":-0.12},{"t":10.25,"y":0.1},{"t":10.3,"y":-0.05},{"t":10.35,"y":0.13},{"t":10.4,"y":0.15},{"t":10.45,"y":-0.08},{"t":10.5,"y":0.06},{"t":10.55,"y":-0.1},{"t":10.6,"y":-0.02},{"t":10.65,"y":0.05},{"t":10.7,"y":-0.04},{"t":10.8,"y":0.02},{"t":10.9,"y":-0.01},{"t":11,"y":0.01},{"t":11.1,"y":-0.01},{"t":11.2,"y":0.01},{"t":11.3,"y":0},{"t":11.4,"y":0.02},{"t":11.5,"y":0.01},{"t":11.6,"y":0.03},{"t":11.7,"y":0.08},{"t":11.8,"y":0.18},{"t":11.88,"y":0.3},{"t":11.95,"y":0.27},{"t":12,"y":0.15},{"t":12.1,"y":0.07},{"t":12.2,"y":0.05},{"t":12.3,"y":0.04},{"t":12.4,"y":0.03},{"t":12.5,"y":0.05},{"t":12.6,"y":0.02},{"t":12.7,"y":0.04},{"t":12.8,"y":0.01},{"t":12.9,"y":0.02},{"t":13,"y":-0.01},{"t":13.1,"y":0.01},{"t":13.2,"y":-0.02},{"t":13.3,"y":0},{"t":13.4,"y":-0.03},{"t":13.5,"y":-0.01},{"t":13.6,"y":-0.04},{"t":13.7,"y":-0.07},{"t":13.8,"y":-0.15},{"t":13.9,"y":-0.26},{"t":14,"y":-0.2},{"t":14.1,"y":-0.1},{"t":14.2,"y":-0.04},{"t":14.3,"y":-0.02},{"t":14.4,"y":-0.03},{"t":14.5,"y":0},{"t":14.6,"y":-0.01},{"t":14.7,"y":0.01},{"t":14.8,"y":0.02},{"t":14.9,"y":0.03},{"t":15,"y":0.04},{"t":15.1,"y":0.05},{"t":15.2,"y":0.03},{"t":15.3,"y":0.02},{"t":15.4,"y":0.01},{"t":15.5,"y":-0.01},{"t":15.6,"y":-0.02},{"t":15.7,"y":-0.04},{"t":15.8,"y":-0.05},{"t":15.9,"y":-0.03},{"t":16,"y":-0.06},{"t":16.1,"y":0.01},{"t":16.2,"y":0.03},{"t":16.3,"y":-0.01},{"t":16.4,"y":0.08},{"t":16.45,"y":0.03},{"t":16.5,"y":0.06},{"t":16.6,"y":-0.05},{"t":16.7,"y":0.01},{"t":16.8,"y":-0.03},{"t":16.9,"y":0.02},{"t":17,"y":-0.01},{"t":17.1,"y":0.02},{"t":17.2,"y":-0.02},{"t":17.3,"y":0.01},{"t":17.4,"y":-0.01},{"t":17.5,"y":0.02},{"t":17.6,"y":-0.02},{"t":17.7,"y":0},{"t":17.8,"y":-0.03},{"t":17.9,"y":-0.07},{"t":18,"y":0.01},{"t":18.1,"y":0.08},{"t":18.2,"y":0.03},{"t":18.3,"y":0.02},{"t":18.4,"y":-0.01},{"t":18.5,"y":0.02},{"t":18.6,"y":-0.02},{"t":18.7,"y":0.01},{"t":18.8,"y":-0.015},{"t":18.9,"y":0.02},{"t":19,"y":-0.01},{"t":19.1,"y":0.015},{"t":19.2,"y":-0.02},{"t":19.3,"y":0.01},{"t":19.4,"y":-0.005},{"t":19.5,"y":0.02},{"t":19.6,"y":-0.01},{"t":19.7,"y":0.015},{"t":19.8,"y":-0.02},{"t":19.9,"y":0.01},{"t":20,"y":0.02}]
},
"concat":[
{"width":316.7,"height":242,
 "encoding":{"x":{"field":"t","type":"quantitative","scale":{"domain":[0,20],"nice":false,"zero":false},"axis":{"values":[0,10,20],"title":null,"gridOpacity":{"condition":{"test":"datum.value==0||datum.value==20","value":0},"value":1}}},
  "y":{"field":"y","type":"quantitative","scale":{"domain":[-1,1],"nice":false,"zero":false},"axis":{"values":[-1,-0.5,0,0.5,1],"title":"ỹᵖ₀,₁ [rad/s²]","titleX":-60,"gridOpacity":{"condition":{"test":"abs(datum.value)==1","value":0},"value":1}}}},
 "layer":[
  {"data":{"name":"k1"},"mark":{"type":"line","strokeWidth":1.8,"clip":true,"strokeJoin":"round"},"encoding":{"color":{"datum":"with sensing error","type":"nominal","scale":{"domain":["without sensing error","with sensing error"],"range":["#0000ff","#000000"]},"legend":{"title":null,"orient":"none","legendX":284,"legendY":-57,"direction":"horizontal"}},"strokeDash":{"datum":"with sensing error","type":"nominal","scale":{"domain":["without sensing error","with sensing error"],"range":[[1,0],[6,3,2,3]]},"legend":{"title":null,"orient":"none","legendX":284,"legendY":-57,"direction":"horizontal"}}}},
  {"data":{"name":"z"},"mark":{"type":"line","strokeWidth":2,"clip":true},"encoding":{"color":{"datum":"without sensing error","type":"nominal","scale":{"domain":["without sensing error","with sensing error"],"range":["#0000ff","#000000"]}},"strokeDash":{"datum":"without sensing error","type":"nominal","scale":{"domain":["without sensing error","with sensing error"],"range":[[1,0],[6,3,2,3]]}}}}
 ]},
{"width":287.5,"height":242,
 "encoding":{"x":{"field":"t","type":"quantitative","scale":{"domain":[0,20],"nice":false,"zero":false},"axis":{"values":[0,10,20],"title":null,"gridOpacity":{"condition":{"test":"datum.value==0||datum.value==20","value":0},"value":1}}},
  "y":{"field":"y","type":"quantitative","scale":{"domain":[-0.4,0.4],"nice":false,"zero":false},"axis":{"values":[-0.4,-0.2,0,0.2,0.4],"title":"ỹᵖ₀,₂ [rad/s²]","titleX":-53,"gridOpacity":{"condition":{"test":"abs(datum.value)>0.39","value":0},"value":1}}}},
 "layer":[
  {"data":{"name":"k2"},"mark":{"type":"line","strokeWidth":1.8,"clip":true,"strokeJoin":"round"},"encoding":{"color":{"datum":"with sensing error","type":"nominal","scale":{"domain":["without sensing error","with sensing error"],"range":["#0000ff","#000000"]}},"strokeDash":{"datum":"with sensing error","type":"nominal","scale":{"domain":["without sensing error","with sensing error"],"range":[[1,0],[6,3,2,3]]}}}},
  {"data":{"name":"z"},"mark":{"type":"line","strokeWidth":2,"clip":true},"encoding":{"color":{"datum":"without sensing error","type":"nominal","scale":{"domain":["without sensing error","with sensing error"],"range":["#0000ff","#000000"]}},"strokeDash":{"datum":"without sensing error","type":"nominal","scale":{"domain":["without sensing error","with sensing error"],"range":[[1,0],[6,3,2,3]]}}}}
 ]},
{"width":299,"height":242,
 "encoding":{"x":{"field":"t","type":"quantitative","scale":{"domain":[0,20],"nice":false,"zero":false},"axis":{"values":[0,10,20],"title":null,"gridOpacity":{"condition":{"test":"datum.value==0||datum.value==20","value":0},"value":1}}},
  "y":{"field":"y","type":"quantitative","scale":{"domain":[-0.064,0.06],"nice":false,"zero":false},"axis":{"values":[-0.05,0,0.05],"title":"ỹᵖ₀,₃ [rad/s²]","titleX":-51}}},
 "layer":[
  {"data":{"name":"k3"},"mark":{"type":"line","strokeWidth":1.8,"clip":true,"strokeJoin":"round"},"encoding":{"color":{"datum":"with sensing error","type":"nominal","scale":{"domain":["without sensing error","with sensing error"],"range":["#0000ff","#000000"]}},"strokeDash":{"datum":"with sensing error","type":"nominal","scale":{"domain":["without sensing error","with sensing error"],"range":[[1,0],[6,3,2,3]]}}}},
  {"data":{"name":"z"},"mark":{"type":"line","strokeWidth":2,"clip":true},"encoding":{"color":{"datum":"without sensing error","type":"nominal","scale":{"domain":["without sensing error","with sensing error"],"range":["#0000ff","#000000"]}},"strokeDash":{"datum":"without sensing error","type":"nominal","scale":{"domain":["without sensing error","with sensing error"],"range":[[1,0],[6,3,2,3]]}}}}
 ]},
{"width":316.7,"height":286,
 "encoding":{"x":{"field":"t","type":"quantitative","scale":{"domain":[0,20],"nice":false,"zero":false},"axis":{"values":[0,10,20],"title":"Time [s]","gridOpacity":{"condition":{"test":"datum.value==0||datum.value==20","value":0},"value":1}}},
  "y":{"field":"y","type":"quantitative","scale":{"domain":[-5.45,2.9],"nice":false,"zero":false},"axis":{"values":[-4,-2,0,2],"title":"εₛ₁ [rad/s²]","titleX":-50}}},
 "layer":[
  {"data":{"name":"c1"},"mark":{"type":"line","strokeWidth":2,"clip":true},"encoding":{"color":{"datum":"without sensing error","type":"nominal","scale":{"domain":["without sensing error","with sensing error"],"range":["#0000ff","#000000"]}},"strokeDash":{"datum":"without sensing error","type":"nominal","scale":{"domain":["without sensing error","with sensing error"],"range":[[1,0],[6,3,2,3]]}}}},
  {"data":{"name":"k4"},"mark":{"type":"line","strokeWidth":1.8,"clip":true,"strokeJoin":"round"},"encoding":{"color":{"datum":"with sensing error","type":"nominal","scale":{"domain":["without sensing error","with sensing error"],"range":["#0000ff","#000000"]}},"strokeDash":{"datum":"with sensing error","type":"nominal","scale":{"domain":["without sensing error","with sensing error"],"range":[[1,0],[6,3,2,3]]}}}}
 ]},
{"width":287.5,"height":286,
 "encoding":{"x":{"field":"t","type":"quantitative","scale":{"domain":[0,20],"nice":false,"zero":false},"axis":{"values":[0,10,20],"title":"Time [s]","gridOpacity":{"condition":{"test":"datum.value==0||datum.value==20","value":0},"value":1}}},
  "y":{"field":"y","type":"quantitative","scale":{"domain":[-1,2],"nice":false,"zero":false},"axis":{"values":[-1,0,1,2],"title":"εₛ₂ [rad/s²]","titleX":-33,"gridOpacity":{"condition":{"test":"datum.value==-1||datum.value==2","value":0},"value":1}}}},
 "layer":[
  {"data":{"name":"c2"},"mark":{"type":"line","strokeWidth":2,"clip":true},"encoding":{"color":{"datum":"without sensing error","type":"nominal","scale":{"domain":["without sensing error","with sensing error"],"range":["#0000ff","#000000"]}},"strokeDash":{"datum":"without sensing error","type":"nominal","scale":{"domain":["without sensing error","with sensing error"],"range":[[1,0],[6,3,2,3]]}}}},
  {"data":{"name":"k5"},"mark":{"type":"line","strokeWidth":1.8,"clip":true,"strokeJoin":"round"},"encoding":{"color":{"datum":"with sensing error","type":"nominal","scale":{"domain":["without sensing error","with sensing error"],"range":["#0000ff","#000000"]}},"strokeDash":{"datum":"with sensing error","type":"nominal","scale":{"domain":["without sensing error","with sensing error"],"range":[[1,0],[6,3,2,3]]}}}}
 ]},
{"width":299,"height":286,
 "encoding":{"x":{"field":"t","type":"quantitative","scale":{"domain":[0,20],"nice":false,"zero":false},"axis":{"values":[0,10,20],"title":"Time [s]","gridOpacity":{"condition":{"test":"datum.value==0||datum.value==20","value":0},"value":1}}},
  "y":{"field":"y","type":"quantitative","scale":{"domain":[-0.4,0.4],"nice":false,"zero":false},"axis":{"values":[-0.4,-0.2,0,0.2,0.4],"title":"εₛ₃ [rad/s²]","titleX":-50,"gridOpacity":{"condition":{"test":"abs(datum.value)>0.39","value":0},"value":1}}}},
 "layer":[
  {"data":{"name":"c3"},"mark":{"type":"line","strokeWidth":2,"clip":true},"encoding":{"color":{"datum":"without sensing error","type":"nominal","scale":{"domain":["without sensing error","with sensing error"],"range":["#0000ff","#000000"]}},"strokeDash":{"datum":"without sensing error","type":"nominal","scale":{"domain":["without sensing error","with sensing error"],"range":[[1,0],[6,3,2,3]]}}}},
  {"data":{"name":"k6"},"mark":{"type":"line","strokeWidth":1.8,"clip":true,"strokeJoin":"round"},"encoding":{"color":{"datum":"with sensing error","type":"nominal","scale":{"domain":["without sensing error","with sensing error"],"range":["#0000ff","#000000"]}},"strokeDash":{"datum":"with sensing error","type":"nominal","scale":{"domain":["without sensing error","with sensing error"],"range":[[1,0],[6,3,2,3]]}}}}
 ]}
],
"config":{
 "view":{"stroke":"#262626","strokeWidth":1},
 "axis":{"labelFont":"Liberation Sans","labelFontSize":23,"labelColor":"#262626","labelPadding":10,"labelFlush":false,"labelOverlap":false,"labelBound":false,"grid":true,"gridColor":"#e3e3e3","gridWidth":1,"domain":false,"ticks":false,"titleColor":"#333333","titleFontWeight":"normal","labelExpr":"replace(format(datum.value,'~g'),'−','-')"},
 "axisX":{"labelPadding":16,"titleFont":"Liberation Sans","titleFontSize":25,"titlePadding":4,"titleColor":"#262626"},
 "axisY":{"titleFont":"Liberation Serif","titleFontStyle":"italic","titleFontSize":28},
 "legend":{"labelFont":"Liberation Sans","labelFontSize":23,"labelColor":"#000000","symbolType":"M-1,0H3","symbolSize":484,"symbolStrokeWidth":2,"strokeColor":"#262626","fillColor":"#ffffff","padding":5,"columnPadding":22,"labelOffset":25,"labelLimit":400}
}
}
